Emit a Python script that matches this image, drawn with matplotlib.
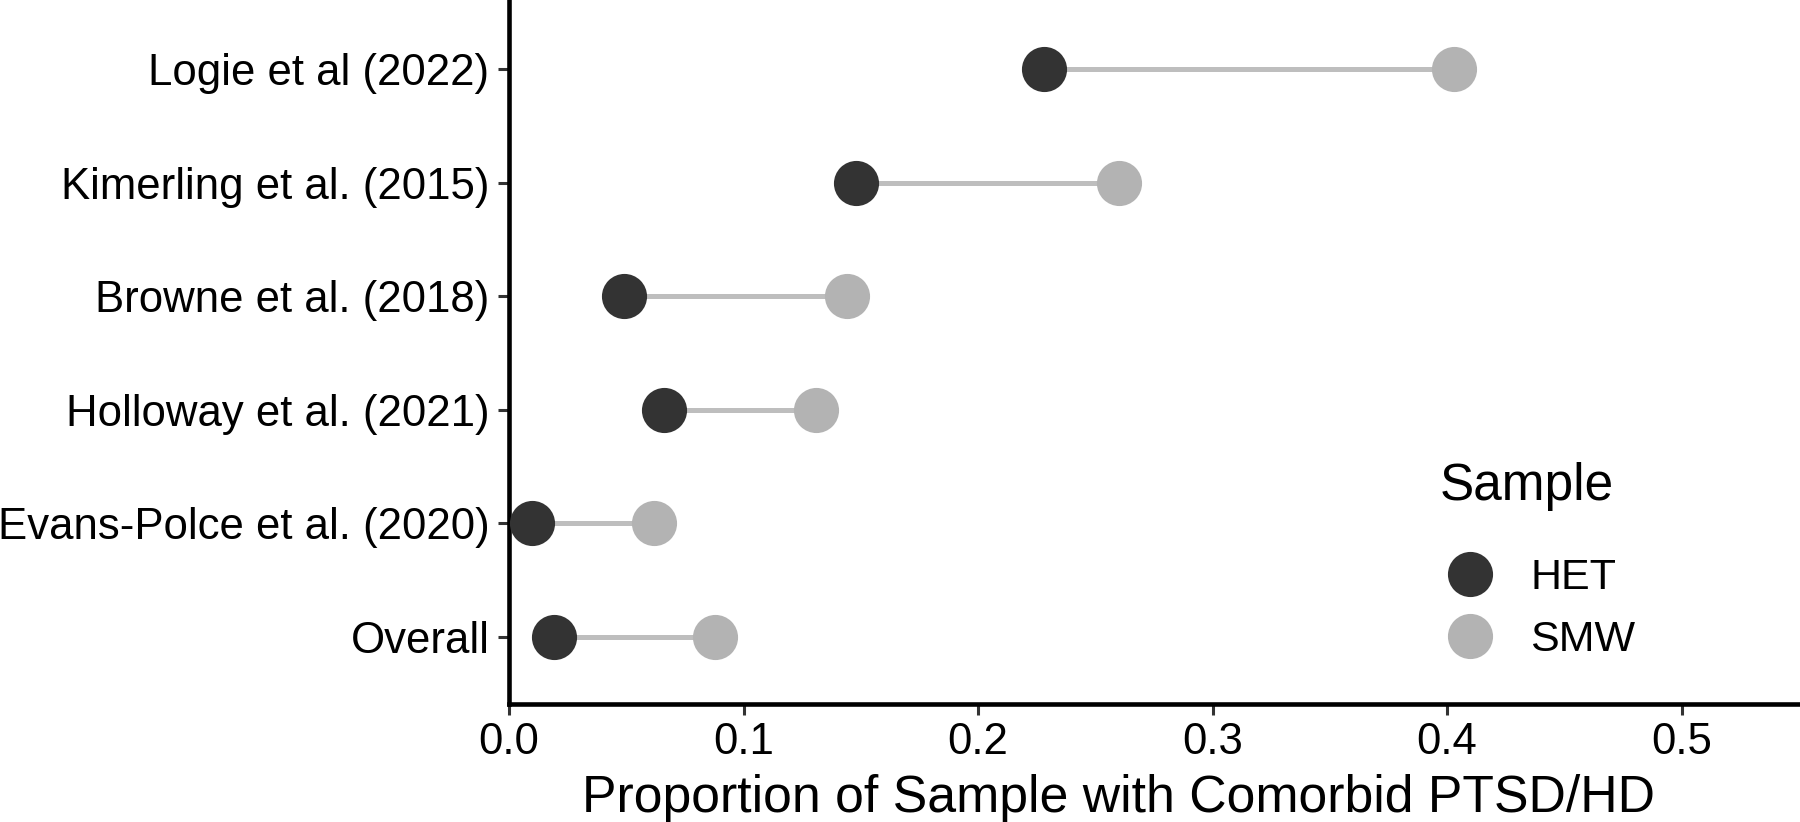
import matplotlib
matplotlib.use("Agg")
import matplotlib.pyplot as plt
from matplotlib.lines import Line2D

plt.rcParams["font.family"] = ["Liberation Sans", "DejaVu Sans"]

# studies, bottom to top
studies = ["Overall", "Evans-Polce et al. (2020)", "Holloway et al. (2021)",
           "Browne et al. (2018)", "Kimerling et al. (2015)", "Logie et al (2022)"]
het = [0.019, 0.010, 0.066, 0.049, 0.148, 0.228]
smw = [0.088, 0.062, 0.131, 0.144, 0.260, 0.403]

groups = ["HET", "SMW"]
group_colors = ["#333333", "#B3B3B3"]
seg_color = "#BEBEBE"
xticks = [0.0, 0.1, 0.2, 0.3, 0.4, 0.5]

W, H = 1800, 822
fig = plt.figure(figsize=(W / 100, H / 100), dpi=100)
ax = fig.add_axes([509 / W, 1 - 704 / H, 1 - 509 / W, 704 / H])

ys = list(range(1, len(studies) + 1))
ax.hlines(ys, het, smw, color=seg_color, lw=3.6, zorder=1)
ax.scatter(het, ys, s=32.5 ** 2, color=group_colors[0], lw=0, zorder=3)
ax.scatter(smw, ys, s=32.5 ** 2, color=group_colors[1], lw=0, zorder=3)

ax.set_xlim(0, 0.5505)
ax.set_ylim(0.41, 6.61)
ax.set_yticks(ys)
ax.set_yticklabels(studies)
ax.set_xticks(xticks)
ax.set_xticklabels([f"{t:.1f}" for t in xticks])

for s in ["top", "right"]:
    ax.spines[s].set_visible(False)
for s in ["left", "bottom"]:
    ax.spines[s].set_linewidth(3.3)
    ax.spines[s].set_color("black")
ax.tick_params(axis="both", length=8, width=2.2, color="#333333",
               labelsize=31.5, labelcolor="black")
ax.tick_params(axis="x", pad=5)
ax.tick_params(axis="y", pad=6)

ax.set_xlabel("Proportion of Sample with Comorbid PTSD/HD", fontsize=37.3, va="baseline")
ax.xaxis.set_label_coords(1119 / W, 1 - 812 / H, transform=fig.transFigure)

handles = [Line2D([], [], ls="", marker="o", ms=32.5, mew=0, color=c) for c in group_colors]
leg = ax.legend(handles, groups, title="Sample", loc="upper left",
                bbox_to_anchor=(1440 / W, 1 - 462 / H), bbox_transform=fig.transFigure,
                frameon=False, fontsize=31, title_fontsize=37, alignment="left",
                handlelength=1.4, handletextpad=0.7, labelspacing=0.5, borderpad=0,
                borderaxespad=0)
# more room between the legend title and its keys
leg._legend_box.sep = 34

fig.savefig("out.png", dpi=100)
